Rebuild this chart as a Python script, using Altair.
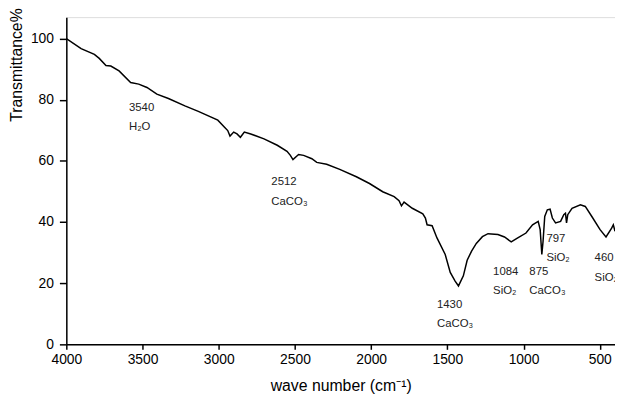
import altair as alt
import pandas as pd

# Spectrum (wave number cm^-1, transmittance %)
wavenumber = [4000, 3903, 3816, 3784, 3740, 3708, 3654, 3578, 3525, 3471, 3406, 3330,
              3222, 3134, 3006, 2962, 2941, 2926, 2902, 2880, 2858, 2832, 2790, 2703,
              2616, 2552, 2530, 2513, 2476, 2443, 2389, 2357, 2292, 2206, 2097, 2011,
              1924, 1849, 1817, 1801, 1784, 1730, 1661, 1644, 1633, 1600, 1568, 1514,
              1481, 1449, 1427, 1395, 1370, 1341, 1310, 1270, 1233, 1168, 1125, 1081,
              1038, 984, 941, 904, 891, 880, 872, 861, 844, 826, 811, 790, 757, 736,
              725, 718, 710, 682, 627, 595, 552, 498, 459, 422, 411, 400]
transmittance = [100.0, 96.7, 94.8, 93.5, 91.2, 91.0, 89.4, 85.6, 85.1, 84.0, 81.8, 80.4,
                 78.0, 76.2, 73.3, 71.0, 69.9, 68.1, 69.4, 68.8, 67.7, 69.4, 68.8, 67.2,
                 65.1, 63.1, 61.8, 60.4, 62.1, 61.8, 60.7, 59.5, 58.9, 57.2, 54.8, 52.6,
                 49.9, 48.3, 47.0, 45.3, 46.5, 44.5, 42.7, 41.3, 39.1, 38.8, 34.8, 29.4,
                 23.5, 20.7, 19.1, 22.4, 27.5, 30.5, 33.0, 35.2, 36.2, 35.9, 35.1, 33.5,
                 34.8, 36.4, 39.1, 40.2, 37.5, 29.4, 33.7, 41.8, 44.0, 44.2, 41.3, 39.7,
                 40.2, 42.4, 42.9, 39.7, 42.4, 44.5, 45.6, 45.1, 41.8, 37.5, 35.1, 38.0,
                 39.1, 37.0]

# Peak annotations
ann_text = ["3540", "H\u2082O", "2512", "CaCO\u2083", "1430", "CaCO\u2083",
            "1084", "SiO\u2082", "875", "CaCO\u2083", "797", "SiO\u2082", "460", "SiO\u2082"]
ann_x = [3589, 3589, 2655, 2655, 1568, 1568, 1200, 1200, 962, 962, 850, 850, 534, 534]
ann_y = [77.4, 70.9, 53.2, 46.7, 12.9, 6.5, 23.5, 17.3, 23.5, 17.3, 34.5, 28.1, 28.1, 21.8]

x_ticks = [4000, 3750, 3500, 3250, 3000, 2750, 2500, 2250, 2000, 1750, 1500, 1250, 1000, 750, 500]
y_ticks = [0, 10, 20, 30, 40, 50, 60, 70, 80, 90, 100]

spec = pd.DataFrame({"wn": wavenumber, "T": transmittance})
ann = pd.DataFrame({"label": ann_text, "wn": ann_x, "T": ann_y})

FONT = "Liberation Sans"

x_scale = alt.Scale(domain=[400, 4000], reverse=True, nice=False, zero=False)
y_scale = alt.Scale(domain=[0, 107], nice=False, zero=True)

x_axis = alt.Axis(
    values=x_ticks,
    labelExpr="datum.value % 500 === 0 ? datum.label : ''",
    format="d",
    labelOverlap=False,
    labelFlush=False,
    grid=False,
    domainColor="black",
    domainWidth=1.5,
    tickColor="black",
    tickWidth=1.5,
    tickSize={"condition": {"test": "datum.value % 500 === 0", "value": 5}, "value": 3},
    labelFont=FONT,
    labelFontSize=14,
    labelColor="black",
    labelPadding=3,
    title="wave number (cm\u207b\u00b9)",
    titleFont=FONT,
    titleFontSize=16,
    titleFontWeight="normal",
    titleColor="black",
    titleBaseline="alphabetic",
    titleY=47,
)

y_axis = alt.Axis(
    values=y_ticks,
    labelExpr="datum.value % 20 === 0 ? datum.label : ''",
    format="d",
    labelOverlap=False,
    labelFlush=False,
    grid=False,
    domainColor="black",
    domainWidth=1.5,
    tickColor="black",
    tickWidth=1.5,
    tickSize={"condition": {"test": "datum.value % 20 === 0", "value": 7}, "value": 4},
    labelFont=FONT,
    labelFontSize=14,
    labelColor="black",
    labelPadding=6,
    title="Transmittance%",
    titleFont=FONT,
    titleFontSize=16,
    titleFontWeight="normal",
    titleColor="black",
    titleAngle=270,
    titleAlign="center",
    titleBaseline="middle",
    titleX=-50,
    titleY=48,
)

line = alt.Chart(spec).mark_line(color="black", strokeWidth=1.5, clip=True).encode(
    x=alt.X("wn:Q", scale=x_scale, axis=x_axis),
    y=alt.Y("T:Q", scale=y_scale, axis=y_axis),
)

labels = alt.Chart(ann).mark_text(
    align="left", baseline="middle", font=FONT, fontSize=11.5, color="#222222"
).encode(
    x=alt.X("wn:Q", scale=x_scale),
    y=alt.Y("T:Q", scale=y_scale),
    text="label:N",
)

chart = alt.layer(line, labels).properties(
    width=555,
    height=331,
    autosize=alt.AutoSizeParams(type="none"),
    padding={"left": 59, "top": 7, "right": 0, "bottom": 50},
).configure_view(stroke=None).configure(background="white")

chart.save("out.html", embed_options={"renderer": "svg", "actions": False})
